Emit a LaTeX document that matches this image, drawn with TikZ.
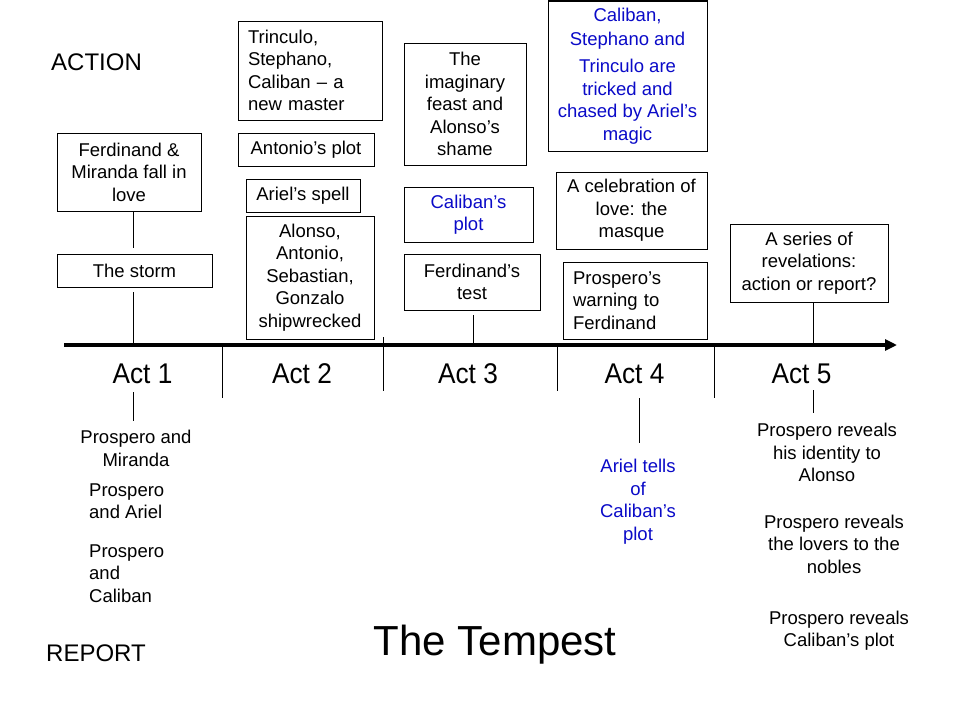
\documentclass[tikz,border=0pt]{standalone}
\usepackage{fontspec}
\setmainfont{Liberation Sans}
\usetikzlibrary{arrows.meta}
\definecolor{tblue}{RGB}{10,10,200}
\newcommand{\actname}[1]{\scalebox{0.92}[1]{#1}}
\begin{document}
\begin{tikzpicture}[x=1pt,y=-1pt,
 evbox/.style={draw, line width=1pt, inner sep=0pt, align=center, font=\fontsize{18.5}{22.5}\selectfont},
 lbox/.style={evbox, align=left, inner xsep=10pt},
 txt/.style={inner sep=0pt, align=center, font=\fontsize{18.5}{22.5}\selectfont},
 ltxt/.style={txt, align=left, anchor=west},
 lnk/.style={line width=1pt},
 actlbl/.style={anchor=base, inner sep=0pt, font=\fontsize{28.5}{30}\selectfont},
 side/.style={anchor=base west, inner sep=0pt, font=\fontsize{24}{26}\selectfont}]
\useasboundingbox[fill=white] (0,0) rectangle (960,720);

% side labels and title
\node[side] (action) at (51,70) {ACTION};
\node[side] (report) at (46,661) {REPORT};
\node[anchor=base, inner sep=0pt, font=\fontsize{42}{46}\selectfont] (title) at (495,655) {The Tempest};

% Act 1
\node[evbox, minimum width=144pt, minimum height=78pt] (fm) at (129,172) {Ferdinand \&\\Miranda fall in\\love};
\node[evbox, minimum width=155pt, minimum height=33pt] (storm) at (134.5,270.5) {The storm};
% Act 2
\node[lbox, text width=124pt, minimum height=99pt] (trin) at (310,70.5) {Trinculo,\\Stephano,\\Caliban – a\\new master};
\node[evbox, minimum width=136pt, minimum height=33pt] (antp) at (306,149.5) {Antonio’s plot};
\node[evbox, minimum width=114pt, minimum height=33pt] (spell) at (303,195.5) {Ariel’s spell};
\node[evbox, minimum width=128pt, minimum height=123pt] (wreck) at (310,277.5) {Alonso,\\Antonio,\\Sebastian,\\Gonzalo\\shipwrecked};
% Act 3
\node[evbox, minimum width=122pt, minimum height=122pt] (feast) at (465,104) {The\\imaginary\\feast and\\Alonso’s\\shame};
\node[evbox, text=tblue, minimum width=129pt, minimum height=55pt] (calp) at (468.5,214.5) {Caliban’s\\plot};
\node[evbox, minimum width=136pt, minimum height=56pt] (ftest) at (472,282) {Ferdinand’s\\test};
% Act 4
\node[evbox, text=tblue, minimum width=159pt, minimum height=150pt] (chase) at (627.5,76) {Caliban,\\[1.5pt]Stephano and\\[4.5pt]Trinculo are\\tricked and\\chased by Ariel’s\\magic};
\node[evbox, minimum width=151pt, minimum height=77pt] (masque) at (631.5,210.5) {A celebration of\\love: the\\masque};
\node[lbox, text width=124pt, minimum height=77pt] (warn) at (635,300.5) {Prospero’s\\warning to\\Ferdinand};
% Act 5
\node[evbox, minimum width=158pt, minimum height=78pt] (series) at (809,263) {A series of\\revelations:\\action or report?};

% time axis
\coordinate (axs) at (64,345);
\coordinate (axe) at (897,345);
\draw[line width=4pt, -{Triangle[length=12pt,width=11pt]}] (axs) -- (axe);

% act dividers
\coordinate (d1a) at (222,345); \coordinate (d1b) at (222,398);
\coordinate (d2a) at (383,337); \coordinate (d2b) at (383,391);
\coordinate (d3a) at (557,345); \coordinate (d3b) at (557,391);
\coordinate (d4a) at (714,345); \coordinate (d4b) at (714,398);
\draw[lnk] (d1a) -- (d1b);
\draw[lnk] (d2a) -- (d2b);
\draw[lnk] (d3a) -- (d3b);
\draw[lnk] (d4a) -- (d4b);

% act labels
\node[actlbl] (act1) at (142.5,383) {\actname{Act 1}};
\node[actlbl] (act2) at (302,383) {\actname{Act 2}};
\node[actlbl] (act3) at (468,383) {\actname{Act 3}};
\node[actlbl] (act4) at (634.5,383) {\actname{Act 4}};
\node[actlbl] (act5) at (801.5,383) {\actname{Act 5}};

% connectors above axis
\coordinate (c1) at (133,248);
\draw[lnk] (c1 |- fm.south) -- (c1);
\coordinate (c2) at (133,292);
\draw[lnk] (c2) -- (c2 |- axs);
\coordinate (c3) at (473,315);
\draw[lnk] (c3) -- (c3 |- axs);
\coordinate (c4) at (813,302);
\draw[lnk] (c4) -- (c4 |- axs);

% connectors below axis
\coordinate (b1a) at (133,392); \coordinate (b1b) at (133,421);
\coordinate (b4a) at (639,398); \coordinate (b4b) at (639,443);
\coordinate (b5a) at (813,390); \coordinate (b5b) at (813,413);
\draw[lnk] (b1a) -- (b1b);
\draw[lnk] (b4a) -- (b4b);
\draw[lnk] (b5a) -- (b5b);

% report texts
\node[txt] (pm) at (136,448.5) {Prospero and\\Miranda};
\node[ltxt] (pa) at (89,501) {Prospero\\and Ariel};
\node[ltxt] (pc) at (89,573.5) {Prospero\\and\\Caliban};
\node[txt, text=tblue] (atell) at (638,501.5) {Ariel tells\\of\\Caliban’s\\plot};
\node[txt] (pr1) at (827,452.5) {Prospero reveals\\his identity to\\Alonso};
\node[txt] (pr2) at (834,544) {Prospero reveals\\the lovers to the\\nobles};
\node[txt] (pr3) at (839,630.5) {Prospero reveals\\Caliban’s plot};
\end{tikzpicture}
\end{document}
